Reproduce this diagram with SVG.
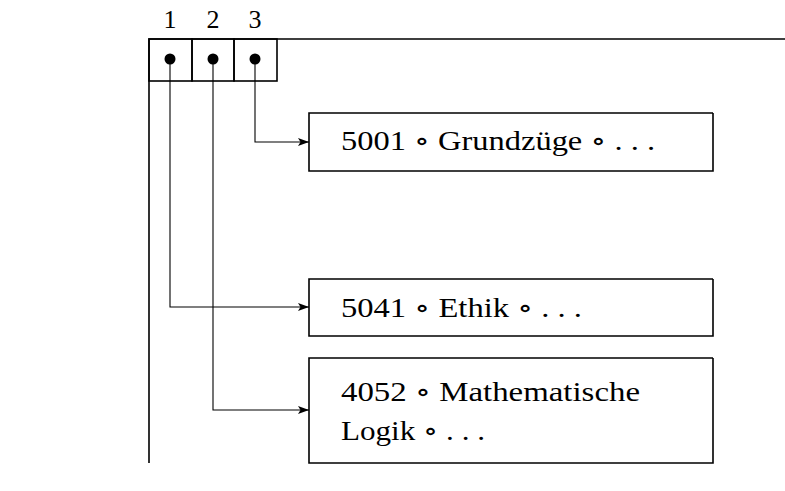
<svg xmlns="http://www.w3.org/2000/svg" width="785" height="491" viewBox="0 0 785 491">
<defs>
<marker id="arr" markerWidth="11" markerHeight="8" refX="11" refY="4" orient="auto" markerUnits="userSpaceOnUse">
<path d="M0,0 L11,4 L0,8 L2.5,4 Z" fill="#000"/>
</marker>
</defs>
<style>
.frame{fill:none;stroke:#000;stroke-width:1.6}
.box{fill:#fff;stroke:#000;stroke-width:1.6}
.conn{fill:none;stroke:#000;stroke-width:1.1}
.t{font-family:"Liberation Serif","DejaVu Serif",serif;font-size:27px;fill:#000}
.n{font-family:"Liberation Serif","DejaVu Serif",serif;font-size:26px;fill:#000;text-anchor:middle}
</style>
<rect width="785" height="491" fill="#fff"/>
<g id="frame">
<path class="frame" d="M149,463 V39 H785"/>
<text class="n" x="170" y="28">1</text>
<text class="n" x="213" y="28">2</text>
<text class="n" x="255" y="28">3</text>
</g>
<g id="cells">
<rect class="frame" x="149" y="39" width="43" height="42"/>
<rect class="frame" x="192" y="39" width="42" height="42"/>
<rect class="frame" x="234" y="39" width="43" height="42"/>
<circle cx="170" cy="59" r="5.5" fill="#000"/>
<circle cx="213" cy="59" r="5.5" fill="#000"/>
<circle cx="255" cy="59" r="5.5" fill="#000"/>
</g>
<g id="connectors">
<path class="conn" d="M255,59 V142 H309" marker-end="url(#arr)"/>
<path class="conn" d="M170,59 V307 H309" marker-end="url(#arr)"/>
<path class="conn" d="M213,59 V410 H309" marker-end="url(#arr)"/>
</g>
<g id="node-5001">
<path class="box" d="M713,113 H309 V171 H713 V113"/>
<text class="t" x="341" y="150" textLength="314" lengthAdjust="spacingAndGlyphs">5001 ∘ Grundzüge ∘ . . .</text>
</g>
<g id="node-5041">
<path class="box" d="M713,279 H309 V336 H713 V279"/>
<text class="t" x="341" y="317" textLength="241" lengthAdjust="spacingAndGlyphs">5041 ∘ Ethik ∘ . . .</text>
</g>
<g id="node-4052">
<path class="box" d="M713,358 H309 V463 H713 V358"/>
<text class="t" x="341" y="401" textLength="299" lengthAdjust="spacingAndGlyphs">4052 ∘ Mathematische</text>
<text class="t" x="341" y="440" textLength="144" lengthAdjust="spacingAndGlyphs">Logik ∘ . . .</text>
</g>
</svg>
